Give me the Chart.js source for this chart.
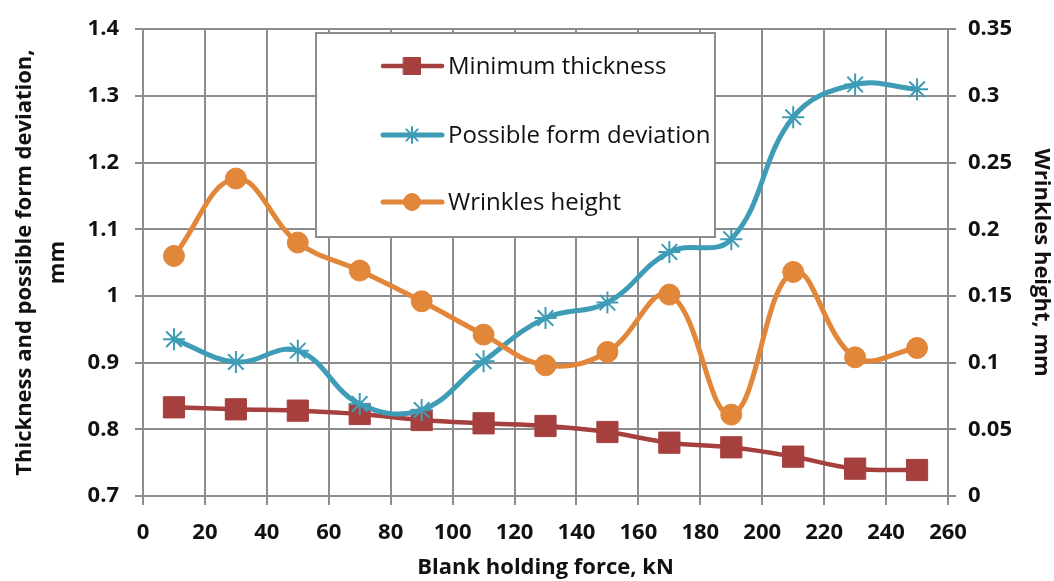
<!DOCTYPE html>
<html>
<head>
<meta charset="utf-8">
<script src="https://cdn.jsdelivr.net/npm/chart.js@4.4.1/dist/chart.umd.min.js"></script>
<style>
  html, body { margin: 0; padding: 0; background: #fff; }
  #wrap { width: 1054px; height: 581px; }
</style>
</head>
<body>
<div id="wrap"><canvas id="chart" width="1054" height="581"></canvas></div>
<script>
// Blank holding force, kN
const force = [10, 30, 50, 70, 90, 110, 130, 150, 170, 190, 210, 230, 250];
// left axis, mm
const minThickness = [0.833, 0.830, 0.828, 0.823, 0.814, 0.809, 0.805, 0.796, 0.780, 0.773, 0.759, 0.741, 0.739];
const formDeviation = [0.935, 0.901, 0.918, 0.838, 0.829, 0.902, 0.967, 0.990, 1.066, 1.085, 1.268, 1.317, 1.310];
// right axis, mm
const wrinklesHeight = [0.180, 0.238, 0.190, 0.169, 0.146, 0.121, 0.098, 0.108, 0.151, 0.061, 0.168, 0.104, 0.111];

const seriesNames = ['Minimum thickness', 'Possible form deviation', 'Wrinkles height'];

const red = '#a5403e';
const blue = '#3e9cb7';
const orange = '#e2863a';
const gridGray = '#8c8c8c';
const fontFamily = '"Open Sans", Lato, sans-serif';

function pts(values) {
  return force.map((x, i) => ({ x: x, y: values[i] }));
}

function fmt(v) {
  return String(Math.round(v * 1000) / 1000);
}

// legend drawn as a framed box inside the plot, like the Excel original
const boxLegend = {
  id: 'boxLegend',
  afterDatasetsDraw(chart) {
    const ctx = chart.ctx;
    ctx.save();
    ctx.fillStyle = '#fff';
    ctx.fillRect(316, 33, 399, 204);
    ctx.strokeStyle = gridGray;
    ctx.lineWidth = 2;
    ctx.strokeRect(316, 33, 399, 204);

    const rows = [66, 135, 202];
    chart.data.datasets.forEach((ds, i) => {
      const y = rows[i];
      ctx.strokeStyle = ds.borderColor;
      ctx.lineWidth = ds.borderWidth;
      ctx.lineCap = 'round';
      ctx.beginPath();
      ctx.moveTo(383, y);
      ctx.lineTo(442, y);
      ctx.stroke();

      ctx.fillStyle = ds.pointBackgroundColor;
      ctx.strokeStyle = ds.pointBorderColor;
      ctx.lineWidth = ds.pointBorderWidth;
      Chart.helpers.drawPoint(ctx, {
        pointStyle: ds.pointStyle,
        radius: ds.legendRadius,
        rotation: 0,
        borderWidth: ds.pointBorderWidth
      }, 412, y);

      ctx.fillStyle = '#111';
      ctx.font = '24px ' + fontFamily;
      ctx.textBaseline = 'middle';
      ctx.fillText(seriesNames[i], 448, y + 1);
    });
    ctx.restore();
  }
};

const tickFont = { family: fontFamily, size: 22, weight: 'bold' };
const titleFont = { family: fontFamily, size: 22, weight: 'bold' };

const ctx = document.getElementById('chart').getContext('2d');

new Chart(ctx, {
  type: 'line',
  data: {
    datasets: [
      {
        label: seriesNames[0],
        data: pts(minThickness),
        yAxisID: 'y',
        borderColor: red,
        backgroundColor: red,
        borderWidth: 4.5,
        pointStyle: 'rect',
        pointRadius: 15,
        legendRadius: 12,
        pointBackgroundColor: red,
        pointBorderColor: red,
        pointBorderWidth: 1,
        tension: 0.4,
        order: 3
      },
      {
        label: seriesNames[1],
        data: pts(formDeviation),
        yAxisID: 'y',
        borderColor: blue,
        backgroundColor: blue,
        borderWidth: 5,
        pointStyle: 'star',
        pointRadius: 11,
        legendRadius: 8,
        pointBackgroundColor: blue,
        pointBorderColor: blue,
        pointBorderWidth: 2,
        tension: 0.4,
        order: 2
      },
      {
        label: seriesNames[2],
        data: pts(wrinklesHeight),
        yAxisID: 'y2',
        borderColor: orange,
        backgroundColor: orange,
        borderWidth: 5,
        pointStyle: 'circle',
        pointRadius: 10.5,
        legendRadius: 8.5,
        pointBackgroundColor: orange,
        pointBorderColor: orange,
        pointBorderWidth: 1,
        tension: 0.4,
        order: 1
      }
    ]
  },
  options: {
    responsive: false,
    animation: false,
    layout: { padding: { top: 22, left: 0, right: 0, bottom: 0 } },
    plugins: {
      legend: { display: false },
      tooltip: { enabled: false }
    },
    scales: {
      x: {
        type: 'linear',
        position: 'bottom',
        min: 0,
        max: 260,
        ticks: { stepSize: 20, color: '#111', font: tickFont, padding: 15 },
        grid: { color: gridGray, lineWidth: 2, tickLength: 9 },
        border: { color: gridGray, width: 2 },
        title: {
          display: true,
          text: 'Blank holding force, kN',
          color: '#111',
          font: titleFont,
          padding: { top: 2, bottom: 0 }
        },
        afterFit: s => { s.height = 85; }
      },
      y: {
        position: 'left',
        min: 0.7,
        max: 1.4,
        ticks: { stepSize: 0.1, color: '#111', font: tickFont, padding: 16, callback: v => fmt(v) },
        grid: { color: gridGray, lineWidth: 2, tickLength: 8 },
        border: { color: gridGray, width: 2 },
        title: {
          display: true,
          text: ['Thickness and possible form deviation,', 'mm'],
          color: '#111',
          font: { family: fontFamily, size: 22, weight: 'bold', lineHeight: 1.5 },
          padding: { top: 8, bottom: 4 }
        },
        afterFit: s => { s.width = 143; }
      },
      y2: {
        position: 'right',
        min: 0,
        max: 0.35,
        ticks: { stepSize: 0.05, color: '#111', font: tickFont, padding: 12, callback: v => fmt(v) },
        grid: { drawOnChartArea: false, color: gridGray, lineWidth: 2, tickLength: 8 },
        border: { color: gridGray, width: 2 },
        title: {
          display: true,
          text: 'Wrinkles height, mm',
          color: '#111',
          font: titleFont,
          padding: { top: 0, bottom: 0 }
        },
        afterFit: s => { s.width = 106; }
      }
    }
  },
  plugins: [boxLegend]
});
</script>
</body>
</html>
